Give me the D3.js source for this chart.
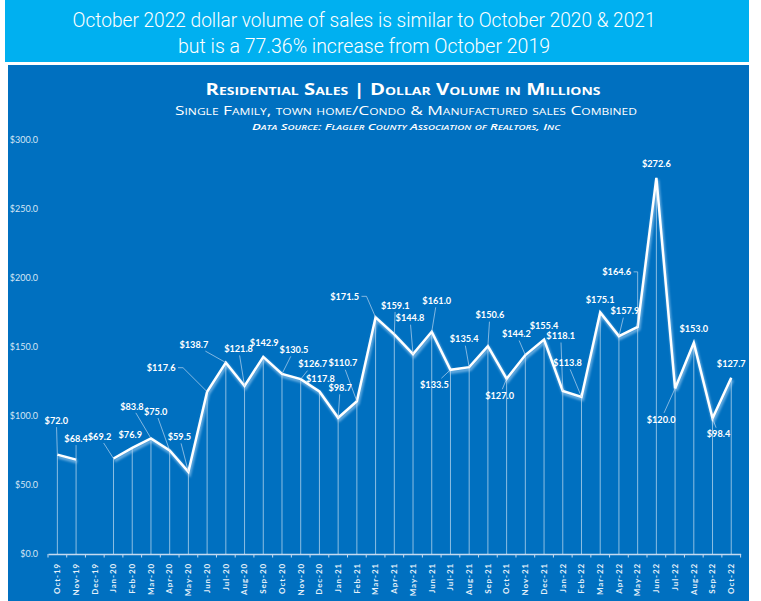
<!DOCTYPE html>
<html>
<head>
<meta charset="utf-8">
<script src="https://cdn.jsdelivr.net/npm/d3@7"></script>
<style>
  html, body { margin: 0; padding: 0; background: #ffffff; }
  svg { display: block; }
</style>
</head>
<body>
<svg id="chart" width="761" height="601"></svg>
<script>
// ---------------- data ----------------
const months = ["Oct-19","Nov-19","Dec-19","Jan-20","Feb-20","Mar-20","Apr-20","May-20","Jun-20","Jul-20","Aug-20","Sep-20",
  "Oct-20","Nov-20","Dec-20","Jan-21","Feb-21","Mar-21","Apr-21","May-21","Jun-21","Jul-21","Aug-21","Sep-21",
  "Oct-21","Nov-21","Dec-21","Jan-22","Feb-22","Mar-22","Apr-22","May-22","Jun-22","Jul-22","Aug-22","Sep-22","Oct-22"];
const dollarVolume = [72.0, 68.4, null, 69.2, 76.9, 83.8, 75.0, 59.5, 117.6, 138.7, 121.8, 142.9,
  130.5, 126.7, 117.8, 98.7, 110.7, 171.5, 159.1, 144.8, 161.0, 133.5, 135.4, 150.6,
  127.0, 144.2, 155.4, 118.1, 113.8, 175.1, 157.9, 164.6, 272.6, 120.0, 153.0, 98.4, 127.7];
const yTicks = [0, 50, 100, 150, 200, 250, 300];
const bannerLines = ["October 2022 dollar volume of sales is similar to October 2020 & 2021",
  "but is a 77.36% increase from October 2019"];
const titleText = "Residential Sales | Dollar Volume in Millions";
const subtitleText = "Single Family, town home/Condo & Manufactured sales Combined";
const sourceText = "Data Source:  Flagler County Association of Realtors, Inc";

// label placement offsets (layout only, px from the point)
const labelOffsets = [[-1,-34],[0,-21],null,[-14,-22],[-2,-13],[-19,-32],[-14,-39],[-9,-35],[-46,-24],[-32,-18],[-6,-37],[1,-14],
  [12,-24],[12,-15],[1,-13],[2,-30],[-14,-38],[-31,-21],[1,-29],[-3,-36],[5,-31],[-16,15],[-5,-28],[2,-31],
  [-7,17],[-9,-21],[0,-14],[-2,-55],[-14,-34],[0,-13],[6,-25],[-21,-55],[0,-14],[-14,31],[0,-14],[6,16],[0,-14]];
// leader style: "h" = short horizontal hook from label right, "v" = horizontal then vertical elbow
const leaderHooks = { 8: "h", 17: "h", 31: "v" };

const data = months.map((m, i) => ({ i, m, v: dollarVolume[i], off: labelOffsets[i] }));

// ---------------- drawing ----------------
const svg = d3.select("#chart");
const defs = svg.append("defs");
defs.append("filter").attr("id", "glow").attr("x", "-10%").attr("y", "-10%").attr("width", "120%").attr("height", "120%")
  .append("feGaussianBlur").attr("stdDeviation", 1.1);

// backgrounds
svg.append("rect").attr("x", 5).attr("y", 0).attr("width", 744).attr("height", 62).attr("fill", "#00B0F0");
svg.append("rect").attr("x", 8).attr("y", 65).attr("width", 741).attr("height", 536).attr("fill", "#0070C0");

// banner text
const bannerWidths = [583, 372];
svg.selectAll("text.banner").data(bannerLines).join("text")
  .attr("class", "banner")
  .attr("x", 364).attr("y", (d, i) => 27 + i * 26)
  .attr("text-anchor", "middle")
  .attr("textLength", (d, i) => bannerWidths[i])
  .attr("lengthAdjust", "spacingAndGlyphs")
  .style("font-family", "Roboto, 'Open Sans', sans-serif")
  .style("font-weight", 300)
  .style("font-size", "20px")
  .attr("fill", "#ffffff")
  .text(d => d);

// titles
svg.append("text").attr("x", 403).attr("y", 95).attr("text-anchor", "middle")
  .attr("textLength", 395).attr("lengthAdjust", "spacingAndGlyphs")
  .style("font-family", "'Open Sans', sans-serif").style("font-weight", 700)
  .style("font-variant", "small-caps").style("font-size", "16px")
  .attr("fill", "#ffffff").text(titleText);
svg.append("text").attr("x", 406).attr("y", 115).attr("text-anchor", "middle")
  .attr("textLength", 462).attr("lengthAdjust", "spacingAndGlyphs")
  .style("font-family", "'Open Sans', sans-serif").style("font-weight", 400)
  .style("font-variant", "small-caps").style("font-size", "13px")
  .attr("fill", "#ffffff").text(subtitleText);
svg.append("text").attr("x", 406).attr("y", 130).attr("text-anchor", "middle")
  .attr("textLength", 308).attr("lengthAdjust", "spacingAndGlyphs")
  .style("font-family", "'Open Sans', sans-serif").style("font-weight", 600).style("font-style", "italic")
  .style("font-variant", "small-caps").style("font-size", "9.5px")
  .attr("fill", "#ffffff").text(sourceText);

// scales
const x = d3.scaleBand().domain(months).range([48, 740.6]).padding(0);
const y = d3.scaleLinear().domain([0, 300]).range([554, 140]);
const cx = m => x(m) + x.bandwidth() / 2;

// y axis
const yAxis = svg.append("g").attr("transform", "translate(41,0)")
  .call(d3.axisLeft(y).tickValues(yTicks).tickSize(0).tickPadding(3).tickFormat(d => "$" + d.toFixed(1)));
yAxis.select(".domain").remove();
yAxis.selectAll("text").attr("fill", "#d6e6f5")
  .style("font-family", "Lato, sans-serif").style("font-size", "9px").style("font-weight", 400);

// x axis
const xAxis = svg.append("g").attr("transform", "translate(0,554)")
  .call(d3.axisBottom(x).tickSize(0).tickSizeOuter(0));
xAxis.select(".domain").attr("stroke", "#c5daf0").attr("stroke-width", 1.6);
xAxis.selectAll("text")
  .attr("transform", "rotate(-90)")
  .attr("text-anchor", "end")
  .attr("x", -9).attr("y", 0).attr("dy", "0.35em")
  .attr("fill", "#e6f0fa")
  .style("font-family", "Lato, sans-serif").style("font-size", "8px").style("font-weight", 700)
  .style("letter-spacing", "0.9px");
const boundaries = months.map(m => x(m)).concat([x.range()[1]]);
xAxis.selectAll("line.bt").data(boundaries).join("line").attr("class", "bt")
  .attr("x1", d => d).attr("x2", d => d).attr("y1", 0).attr("y2", 3.5)
  .attr("stroke", "#c5daf0").attr("stroke-width", 1);

const valid = data.filter(d => d.v != null);

// drop lines
svg.append("g").selectAll("line").data(valid).join("line")
  .attr("x1", d => cx(d.m)).attr("x2", d => cx(d.m))
  .attr("y1", d => y(d.v)).attr("y2", y(0))
  .attr("stroke", "#ffffff").attr("stroke-opacity", 0.55).attr("stroke-width", 1);

// line with glow
const line = d3.line().defined(d => d.v != null).x(d => cx(d.m)).y(d => y(d.v));
svg.append("path").datum(data).attr("d", line)
  .attr("transform", "translate(1,2.2)")
  .attr("fill", "none").attr("stroke", "#a9d2f5").attr("stroke-width", 3.5)
  .attr("stroke-opacity", 0.6).attr("filter", "url(#glow)").attr("stroke-linejoin", "miter");
svg.append("path").datum(data).attr("d", line)
  .attr("fill", "none").attr("stroke", "#ffffff").attr("stroke-width", 2.5)
  .attr("stroke-linejoin", "miter");

// data labels
const labG = svg.append("g");
const leaderG = svg.insert("g", () => labG.node());
valid.forEach(d => {
  const px = cx(d.m), py = y(d.v);
  const lx = px + d.off[0], ly = py + d.off[1];
  const t = labG.append("text").attr("x", lx).attr("y", ly).attr("dy", "0.35em")
    .attr("text-anchor", "middle").attr("fill", "#ffffff")
    .style("font-family", "Lato, sans-serif").style("font-weight", 700).style("font-size", "9.2px")
    .text("$" + d.v.toFixed(1));
  const w = t.node().getComputedTextLength() / 2 + 1.5, h = 6.5;
  const hook = leaderHooks[d.i];
  let pts = null;
  if (hook === "h") {
    const sx = lx + w + 1;
    pts = [[sx, ly], [sx + 5, ly], [px, py]];
  } else if (hook === "v") {
    const sx = lx + w + 1;
    pts = [[sx, ly], [px, ly], [px, py]];
  } else {
    const dx = px - lx, dy = py - ly;
    if (Math.hypot(dx, dy) > 17) {
      const s = Math.min(Math.abs(dx) > 0 ? w / Math.abs(dx) : Infinity, Math.abs(dy) > 0 ? h / Math.abs(dy) : Infinity);
      pts = [[lx + dx * s, ly + dy * s], [px, py]];
    }
  }
  if (pts) {
    leaderG.append("path").attr("d", d3.line()(pts)).attr("fill", "none")
      .attr("stroke", "#c0d8f0").attr("stroke-width", 0.8).attr("stroke-opacity", 0.85);
  }
});
</script>
</body>
</html>
